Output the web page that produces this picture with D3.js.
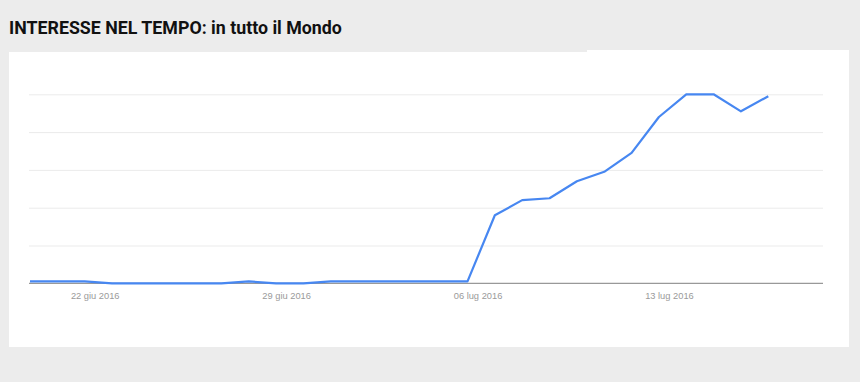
<!DOCTYPE html>
<html>
<head>
<meta charset="utf-8">
<script src="https://cdn.jsdelivr.net/npm/d3@7"></script>
<style>
  html, body { margin: 0; padding: 0; background: #ececec; }
  svg { display: block; }
</style>
</head>
<body>
<svg id="chart" width="860" height="382"></svg>
<script>
const title = "INTERESSE NEL TEMPO: in tutto il Mondo";
const startDate = "2016-06-20";
const values = [1, 1, 1, 0, 0, 0, 0, 0, 1, 0, 0, 1, 1, 1, 1, 1, 1,
                36, 44, 45, 54, 59, 69, 88, 100, 100, 91, 99];
const tickDates = ["2016-06-22", "2016-06-29", "2016-07-06", "2016-07-13"];
const tickLabels = ["22 giu 2016", "29 giu 2016", "06 lug 2016", "13 lug 2016"];
const yTicks = [0, 20, 40, 60, 80, 100];

const svg = d3.select("#chart");
const parse = d3.utcParse("%Y-%m-%d");
const day = 24 * 3600 * 1000;
const t0 = parse(startDate);
const data = values.map((v, i) => ({ date: new Date(t0.getTime() + i * day), value: v }));

// panel
svg.append("rect").attr("x", 9).attr("y", 52).attr("width", 840).attr("height", 295).attr("fill", "#fff");
svg.append("rect").attr("x", 587).attr("y", 50).attr("width", 262).attr("height", 10).attr("fill", "#fff");

// title
svg.append("text").attr("x", 9).attr("y", 34)
  .attr("font-family", "Roboto, sans-serif").attr("font-weight", "bold")
  .attr("font-size", 17.8).attr("fill", "#111").text(title);

const x = d3.scaleUtc()
  .domain([data[0].date, data[data.length - 1].date])
  .range([30, 768.3]);
const y = d3.scaleLinear().domain([0, 100]).range([283.3, 94.3]);

// gridlines
const grid = svg.append("g")
  .attr("transform", "translate(29,0)")
  .call(d3.axisLeft(y).tickValues(yTicks.slice(1)).tickSize(-(823 - 29)).tickFormat(""));
grid.select(".domain").remove();
grid.selectAll(".tick line").attr("stroke", "#ebebeb").attr("stroke-width", 1);

// x axis
const xAxis = svg.append("g").attr("transform", "translate(0,283.3)")
  .call(d3.axisBottom(x)
    .tickValues(tickDates.map(parse))
    .tickSize(0)
    .tickFormat((d, i) => tickLabels[i]));
xAxis.select(".domain").attr("d", "M29,0H823").attr("stroke", "#999").attr("stroke-width", 1.3);
xAxis.selectAll(".tick text")
  .attr("dx", 10).attr("dy", "1.4em")
  .attr("font-family", "Arial, 'Liberation Sans', sans-serif")
  .attr("font-size", 9.3).attr("fill", "#9a9a9a");

// line
const line = d3.line().x(d => x(d.date)).y(d => y(d.value));
svg.append("path").datum(data)
  .attr("fill", "none").attr("stroke", "#4787f1").attr("stroke-width", 2.2)
  .attr("stroke-linejoin", "round")
  .attr("d", line);
</script>
</body>
</html>
